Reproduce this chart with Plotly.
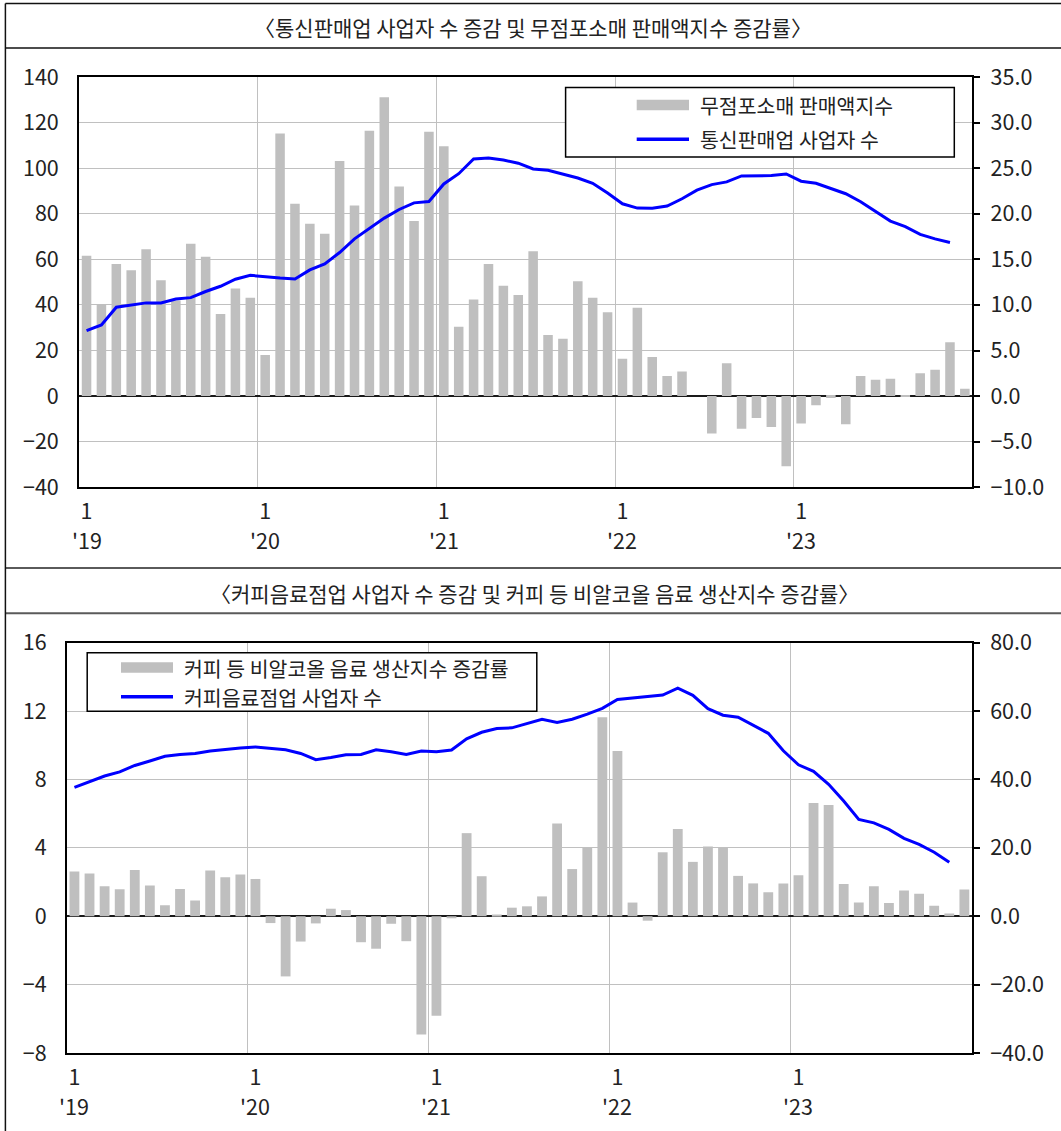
import plotly.graph_objects as go

W, H = 1061, 1131

# ---- x axis: monthly, Jan 2019 .. Dec 2023 ----
months = list(range(60))
jan_ticks = [0, 12, 24, 36, 48]
month_labels = ["1", "1", "1", "1", "1"]
year_labels = ["'19", "'20", "'21", "'22", "'23"]

# ---- top panel ----
top_title = "〈통신판매업 사업자 수 증감 및 무점포소매 판매액지수 증감률〉"
top_bar_name = "무점포소매 판매액지수"
top_line_name = "통신판매업 사업자 수"

# 무점포소매 판매액지수 증감률 (right axis)
online_sales_growth = [
    15.4, 10.1, 14.5, 13.8, 16.1, 12.7, 10.5, 16.7, 15.3, 9.0, 11.8, 10.8,
    4.5, 28.8, 21.1, 18.9, 17.8, 25.8, 20.9, 29.1, 32.8, 23.0, 19.2, 29.0,
    27.4, 7.6, 10.6, 14.5, 12.1, 11.1, 15.9, 6.7, 6.3, 12.6, 10.8, 9.2,
    4.1, 9.7, 4.3, 2.2, 2.7, 0.0, -4.1, 3.6, -3.6, -2.4, -3.4, -7.7,
    -3.0, -1.0, -0.2, -3.1, 2.2, 1.8, 1.9, -0.1, 2.5, 2.9, 5.9, 0.8,
]
# 통신판매업 사업자 수 증감 (left axis)
mail_order_biz_growth = [
    28.7, 31.2, 39.0, 40.1, 40.9, 40.9, 42.6, 43.2, 45.9, 48.2, 51.3, 53.0,
    52.3, 51.8, 51.4, 55.4, 58.0, 63.0, 69.0, 73.7, 78.1, 81.9, 84.8, 85.4,
    93.1, 97.6, 104.1, 104.5, 103.6, 102.2, 99.7, 99.1, 97.5, 95.7, 93.4, 89.1,
    84.4, 82.5, 82.4, 83.4, 86.6, 90.4, 92.8, 94.0, 96.6, 96.8, 96.8, 97.5,
    94.3, 93.4, 91.0, 88.8, 85.3, 81.0, 76.8, 74.4, 71.0, 69.0, 67.4,
]

# ---- bottom panel ----
bot_title = "〈커피음료점업 사업자 수 증감 및 커피 등 비알코올 음료 생산지수 증감률〉"
bot_bar_name = "커피 등 비알코올 음료 생산지수 증감률"
bot_line_name = "커피음료점업 사업자 수"

# 커피 등 비알코올 음료 생산지수 증감률 (right axis)
beverage_prod_growth = [
    13.1, 12.5, 8.8, 7.9, 13.5, 9.0, 3.2, 8.0, 4.6, 13.4, 11.4, 12.2,
    10.9, -2.0, -17.6, -7.4, -2.1, 2.2, 1.8, -7.6, -9.5, -2.2, -7.3, -34.6,
    -29.1, -0.6, 24.3, 11.7, 0.5, 2.5, 2.9, 5.8, 27.1, 13.8, 20.0, 58.2,
    48.3, 4.0, -1.3, 18.7, 25.5, 15.9, 20.4, 20.1, 11.8, 9.6, 7.0, 9.6,
    12.0, 33.1, 32.5, 9.4, 4.0, 8.8, 3.9, 7.5, 6.6, 3.1, 0.8, 7.8,
]
# 커피음료점업 사업자 수 증감 (left axis)
coffee_shop_growth = [
    7.54, 7.86, 8.20, 8.44, 8.82, 9.08, 9.36, 9.46, 9.52, 9.66, 9.76, 9.84,
    9.90, 9.82, 9.74, 9.52, 9.16, 9.28, 9.44, 9.46, 9.74, 9.62, 9.46, 9.66,
    9.62, 9.72, 10.38, 10.76, 10.98, 11.02, 11.28, 11.52, 11.34, 11.52, 11.82, 12.16,
    12.68, 12.76, 12.84, 12.94, 13.34, 12.92, 12.14, 11.76, 11.64, 11.16, 10.70, 9.68,
    8.86, 8.48, 7.72, 6.74, 5.66, 5.46, 5.08, 4.56, 4.20, 3.74, 3.16,
]

# ---- styling ----
FONT = "Noto Sans CJK KR, Noto Sans, sans-serif"
TXT = "#222222"
GRID = "#C0C0C0"
BAR = "#BFBFBF"
BLUE = "#0000FF"
AXIS = "#000000"


def px_x(x):
    return x / W


def px_y(y):
    return 1 - y / H


top_dom_x = [px_x(79.1), px_x(972.3)]
top_dom_y = [px_y(487.2), px_y(77.1)]
bot_dom_x = [px_x(66.9), px_x(971.9)]
bot_dom_y = [px_y(1053.0), px_y(642.7)]

tick_font = dict(family=FONT, size=21.5, color=TXT)
label_font = dict(family=FONT, size=20.5, color=TXT)
title_font = dict(family=FONT, size=21, color=TXT)


def month_axis(domain, anchor):
    return dict(
        domain=domain, anchor=anchor, range=[-0.5, 59.5],
        tickmode="array", tickvals=jan_ticks, ticktext=month_labels,
        showgrid=False, zeroline=False,
        minor=dict(tickmode="linear", tick0=-0.5, dtick=12, showgrid=True,
                   gridcolor=GRID, gridwidth=1.3, ticks=""),
        showline=True, linecolor=AXIS, linewidth=2, mirror=True,
        ticks="", tickfont=tick_font, ticklabelstandoff=4,
        automargin=False, fixedrange=True,
    )


def bar_axis(domain, anchor, rng, dtick):
    return dict(
        domain=domain, anchor=anchor, side="right", range=rng,
        tickmode="linear", tick0=rng[0], dtick=dtick, tickformat=".1f",
        showgrid=True, gridcolor=GRID, gridwidth=1.3,
        zeroline=True, zerolinecolor="#1a1a1a", zerolinewidth=2,
        showline=True, linecolor=AXIS, linewidth=2,
        ticks="outside", ticklen=6, tickwidth=2, tickcolor=AXIS,
        tickfont=tick_font, ticklabelstandoff=6,
        automargin=False, fixedrange=True,
    )


def line_axis(overlay, anchor, rng, dtick):
    return dict(
        overlaying=overlay, anchor=anchor, side="left", range=rng,
        tickmode="linear", tick0=rng[0], dtick=dtick,
        showgrid=False, zeroline=False,
        showline=True, linecolor=AXIS, linewidth=2,
        ticks="", tickfont=tick_font, ticklabelstandoff=14,
        automargin=False, fixedrange=True,
    )


fig = go.Figure()

# top panel traces
fig.add_trace(go.Bar(
    x=months, y=online_sales_growth, xaxis="x", yaxis="y", width=0.64,
    marker=dict(color=BAR, line=dict(width=0)), name=top_bar_name, showlegend=False,
))
fig.add_trace(go.Scatter(
    x=months[:len(mail_order_biz_growth)], y=mail_order_biz_growth, xaxis="x", yaxis="y2",
    mode="lines", line=dict(color=BLUE, width=3), name=top_line_name, showlegend=False,
))

# bottom panel traces
fig.add_trace(go.Bar(
    x=months, y=beverage_prod_growth, xaxis="x2", yaxis="y3", width=0.65,
    marker=dict(color=BAR, line=dict(width=0)), name=bot_bar_name, showlegend=False,
))
fig.add_trace(go.Scatter(
    x=months[:len(coffee_shop_growth)], y=coffee_shop_growth, xaxis="x2", yaxis="y4",
    mode="lines", line=dict(color=BLUE, width=3), name=bot_line_name, showlegend=False,
))

annotations = []
# year row under the month ticks
for xref, dom in (("x", top_dom_y), ("x2", bot_dom_y)):
    for xv, yl in zip(jan_ticks, year_labels):
        annotations.append(dict(
            x=xv, xref=xref, y=dom[0], yref="paper", yshift=-52,
            text=yl, showarrow=False, font=tick_font,
            xanchor="center", yanchor="middle",
        ))

# panel titles
annotations.append(dict(x=px_x(533), y=px_y(27), xref="paper", yref="paper",
                        text=top_title, showarrow=False, font=title_font,
                        xanchor="center", yanchor="middle"))
annotations.append(dict(x=px_x(534), y=px_y(593), xref="paper", yref="paper",
                        text=bot_title, showarrow=False, font=title_font,
                        xanchor="center", yanchor="middle"))

shapes = []


def hline(y, x0, x1, color, width):
    shapes.append(dict(type="line", xref="paper", yref="paper",
                       x0=px_x(x0), x1=px_x(x1), y0=px_y(y), y1=px_y(y),
                       line=dict(color=color, width=width), layer="above"))


# outer frame and panel separators
hline(3.4, 5.4, W, "#111111", 1.5)
hline(48, 5.4, W, "#111111", 1.5)
hline(568, 5.4, W, "#5a5a5a", 2)
hline(613.3, 5.4, W, "#5a5a5a", 2)
shapes.append(dict(type="line", xref="paper", yref="paper",
                   x0=px_x(5.4), x1=px_x(5.4), y0=px_y(3.4), y1=0,
                   line=dict(color="#111111", width=1.5), layer="above"))


def legend_box(x0, y0, x1, y1, sw_x0, sw_x1, y_bar, y_line, text_x, bar_name, line_name):
    shapes.append(dict(type="rect", xref="paper", yref="paper",
                       x0=px_x(x0), x1=px_x(x1), y0=px_y(y1), y1=px_y(y0),
                       fillcolor="white", line=dict(color="#000000", width=1.5), layer="above"))
    shapes.append(dict(type="rect", xref="paper", yref="paper",
                       x0=px_x(sw_x0), x1=px_x(sw_x1), y0=px_y(y_bar + 5.2), y1=px_y(y_bar - 5.2),
                       fillcolor=BAR, line=dict(width=0), layer="above"))
    shapes.append(dict(type="line", xref="paper", yref="paper",
                       x0=px_x(sw_x0), x1=px_x(sw_x1), y0=px_y(y_line), y1=px_y(y_line),
                       line=dict(color=BLUE, width=3.5), layer="above"))
    for yy, tt in ((y_bar, bar_name), (y_line, line_name)):
        annotations.append(dict(x=px_x(text_x), y=px_y(yy), xref="paper", yref="paper",
                                text=tt, showarrow=False, font=label_font,
                                xanchor="left", yanchor="middle"))


legend_box(565.6, 87.4, 954.3, 157.0, 636.7, 689.0, 105.0, 139.2, 698.0,
           top_bar_name, top_line_name)
legend_box(87.2, 652.8, 536.8, 711.3, 121.0, 173.0, 667.5, 696.8, 182.0,
           bot_bar_name, bot_line_name)

fig.update_layout(
    width=W, height=H,
    margin=dict(l=0, r=0, t=0, b=0, pad=0, autoexpand=False),
    paper_bgcolor="white", plot_bgcolor="white",
    font=dict(family=FONT, color=TXT),
    showlegend=False,
    bargap=0.36,
    xaxis=month_axis(top_dom_x, "y"),
    yaxis=bar_axis(top_dom_y, "x", [-10, 35], 5),
    yaxis2=line_axis("y", "x", [-40, 140], 20),
    xaxis2=month_axis(bot_dom_x, "y3"),
    yaxis3=bar_axis(bot_dom_y, "x2", [-40, 80], 20),
    yaxis4=line_axis("y3", "x2", [-8, 16], 4),
    annotations=annotations,
    shapes=shapes,
)

fig.write_html("out.html")
